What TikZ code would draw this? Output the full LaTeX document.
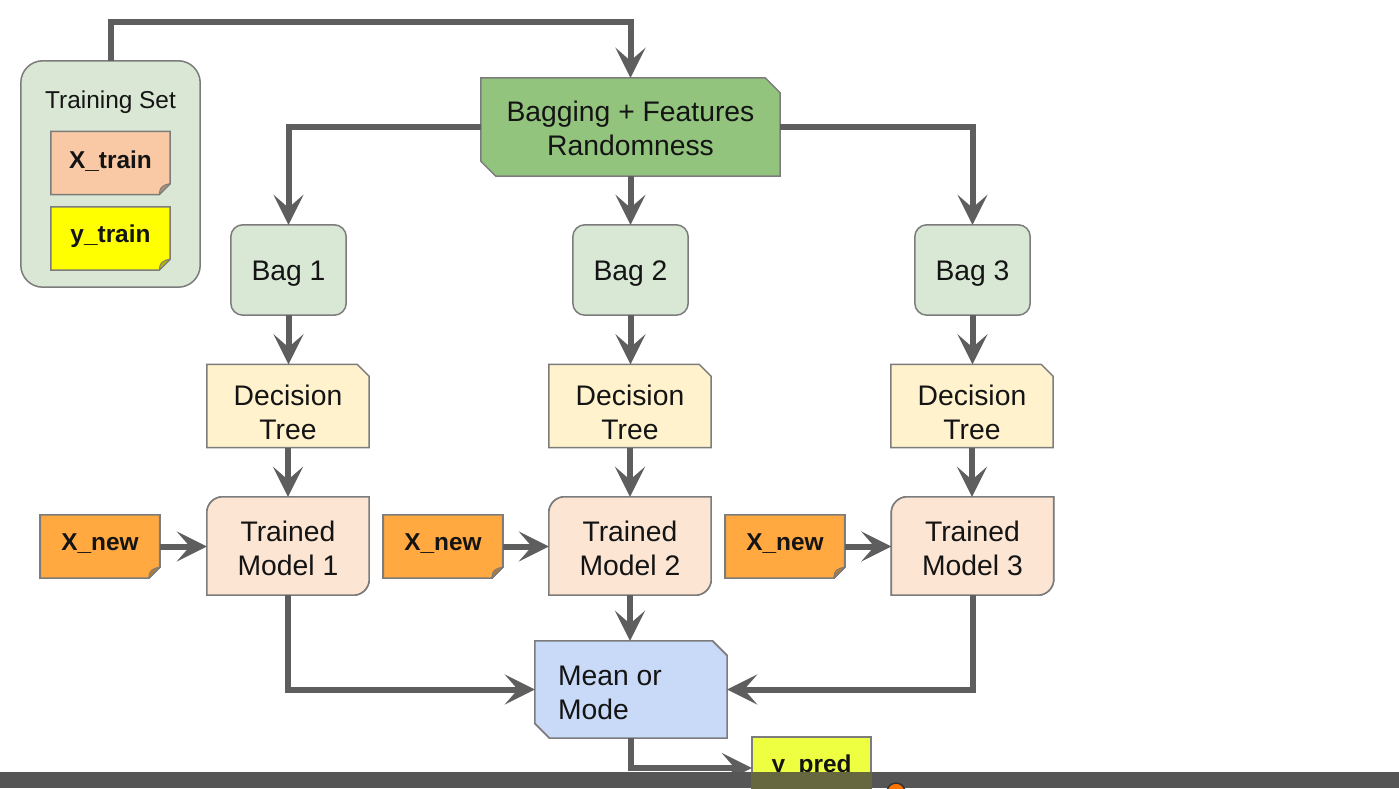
\documentclass[tikz,border=0pt]{standalone}
\usepackage{fontspec}
\setmainfont{Liberation Sans}
\usetikzlibrary{arrows.meta,calc,backgrounds}

\definecolor{linec}{HTML}{5E5E5E}
\definecolor{bordc}{HTML}{7C7C7C}
\definecolor{setc}{HTML}{D9E7D4}
\definecolor{xtrc}{HTML}{F8C9A4}
\definecolor{ytrc}{HTML}{FFFF00}
\definecolor{bagc}{HTML}{93C47D}
\definecolor{bagboxc}{HTML}{D9E8D5}
\definecolor{treec}{HTML}{FFF2CC}
\definecolor{modelc}{HTML}{FCE5D3}
\definecolor{xnewc}{HTML}{FFA940}
\definecolor{meanc}{HTML}{C9DAF8}
\definecolor{ypredc}{HTML}{EEFF41}
\definecolor{barc}{HTML}{565656}
\definecolor{barover}{HTML}{66673F}
\definecolor{inkc}{HTML}{141414}

% sticky note: bottom-right corner folded over
\newcommand\notebox[2]{%
  \filldraw[outline, fill=#2] (#1.north west) -- (#1.north east)
    -- ($(#1.south east)+(0,11)$) -- ($(#1.south east)+(-11,0)$)
    -- (#1.south west) -- cycle;
  \filldraw[draw=bordc, line width=1pt, fill=#2!72!black, line join=round]
    ($(#1.south east)+(0,11)$) -- ($(#1.south east)+(-11,0)$)
    .. controls ($(#1.south east)+(-10,6)$) .. ($(#1.south east)+(-8,8)$)
    .. controls ($(#1.south east)+(-5,10)$) .. cycle;}
% box with north-east and south-west corners cut
\newcommand\cutbox[3]{%
  \filldraw[outline, fill=#2] (#1.north west) -- ($(#1.north east)+(-#3,0)$)
    -- ($(#1.north east)+(0,-#3)$) -- (#1.south east)
    -- ($(#1.south west)+(#3,0)$) -- ($(#1.south west)+(0,#3)$) -- cycle;}
% box with only the north-east corner cut
\newcommand\treebox[1]{%
  \filldraw[outline, fill=treec] (#1.south west) -- (#1.north west)
    -- ($(#1.north east)+(-12,0)$) -- ($(#1.north east)+(0,-12)$)
    -- (#1.south east) -- cycle;}
% box rounded at north-west and south-east only
\newcommand\modelbox[1]{%
  \filldraw[outline, fill=modelc] (#1.south west)
    -- ($(#1.north west)+(0,-16)$) arc[start angle=180,end angle=90,radius=16]
    -- (#1.north east)
    -- ($(#1.south east)+(0,16)$) arc[start angle=0,end angle=-90,radius=16]
    -- cycle;}

\begin{document}
\begin{tikzpicture}[x=1pt,y=1pt,
  every node/.style={inner sep=0pt, text=inkc},
  big/.style={font=\fontsize{28.3}{34}\selectfont, align=center},
  tag/.style={font=\fontsize{24.4}{28}\selectfont\bfseries},
  outline/.style={draw=bordc, line width=1.5pt},
  edge/.style={draw=linec, line width=6pt,
    -{Stealth[length=30pt,width=30pt,inset=13pt]}},
  notesize/.style={minimum width=119pt, minimum height=63pt},
  treesize/.style={minimum width=162pt, minimum height=83pt},
  modelsize/.style={minimum width=162pt, minimum height=98pt},
  bagsize/.style={minimum width=115pt, minimum height=90pt}]
\useasboundingbox (0,0) rectangle (1399,788);

% training set group
\node[minimum width=179pt, minimum height=226pt] (ts) at (110.5,614) {};
\node[font=\fontsize{24.4}{28}\selectfont] (tstitle) at (110.5,686) {Training Set};
\node[notesize] (xtr) at (110.5,625) {};
\node[tag] (xtrt) at ([yshift=2pt]xtr.center) {X\_train};
\node[notesize] (ytr) at (110.5,549.5) {};
\node[tag] (ytrt) at ([yshift=2pt]ytr.center) {y\_train};

% sampling step
\node[minimum width=299pt, minimum height=98pt] (bg) at (630.5,661) {};
\node[big] (bgt) at ([yshift=-1.5pt]bg.center) {Bagging + Features\\Randomness};
\coordinate (topturn) at (630.5,766);

% three parallel branches
\foreach \i/\x in {1/288.5,2/630.5,3/972.5} {
  \node[bagsize] (b\i) at (\x,518) {};
  \node[big] (b\i t) at ([yshift=-4pt]b\i.center) {Bag \i};
}
\foreach \i/\x in {1/288,2/630,3/972} {
  \node[treesize] (d\i) at (\x,382) {};
  \node[big] (d\i t) at ([yshift=-6pt]d\i.center) {Decision\\Tree};
}
\foreach \i/\x in {1/288,2/630,3/972.5} {
  \node[modelsize] (t\i) at (\x,242) {};
  \node[big] (t\i t) at ([yshift=-2pt]t\i.center) {Trained\\Model \i};
}
\foreach \i/\x in {1/100,2/443,3/785} {
  \node[notesize] (x\i) at (\x,241.5) {};
  \node[tag] (x\i t) at ([yshift=3pt]x\i.center) {X\_new};
}

% aggregation and output
\node[minimum width=192pt, minimum height=97pt] (mm) at (631,98.5) {};
\node[big, align=left, anchor=west] (mmtext) at ($(mm.west)+(23,-3)$) {Mean or\\Mode};
\node[minimum width=119pt, minimum height=62pt] (yp) at (811.5,20) {};
\node[tag] (ypt) at ([yshift=2pt]yp.center) {y\_pred};

% shape fills, behind the labels
\begin{scope}[on background layer]
  \fill[white] (0,0) rectangle (1399,788);
  \filldraw[outline, fill=setc, rounded corners=22pt] (ts.south west) rectangle (ts.north east);
  \notebox{xtr}{xtrc}
  \notebox{ytr}{ytrc}
  \cutbox{bg}{bagc}{15}
  \foreach \b in {b1,b2,b3}
    \filldraw[outline, fill=bagboxc, rounded corners=12pt] (\b.south west) rectangle (\b.north east);
  \foreach \d in {d1,d2,d3} \treebox{\d}
  \foreach \t in {t1,t2,t3} \modelbox{\t}
  \notebox{x1}{xnewc}
  \notebox{x2}{xnewc}
  \notebox{x3}{xnewc}
  \cutbox{mm}{meanc}{15}
  \filldraw[outline, fill=ypredc] (yp.south west) rectangle (yp.north east);
\end{scope}

% connectors
\draw[edge] (ts.north) |- (topturn) -- (bg.north);
\draw[edge] (bg.west) -| (b1.north);
\draw[edge] (bg.south) -- (b2.north);
\draw[edge] (bg.east) -| (b3.north);
\foreach \i in {1,2,3} {
  \draw[edge] (b\i.south) -- (b\i.south |- d\i.north);
  \draw[edge] (d\i.south) -- (d\i.south |- t\i.north);
  \draw[edge] (x\i.east) -- (x\i.east -| t\i.west);
}
\draw[edge] (t1.south) |- (mm.west);
\draw[edge] (t2.south) -- (t2.south |- mm.north);
\draw[edge] (t3.south) |- (mm.east);
\draw[edge] (mm.south) |- (yp.west);

% player bar along the bottom edge, the output box showing faintly through it
\fill[barc] (0,0) rectangle (1399,16);
\fill[barover] ([xshift=-0.75pt]yp.south west) rectangle ([xshift=0.75pt]yp.east |- 0,16);
\filldraw[draw=barc!60!black, line width=1.5pt, fill=orange!90!red] (896,-4) circle (9);
\end{tikzpicture}
\end{document}
